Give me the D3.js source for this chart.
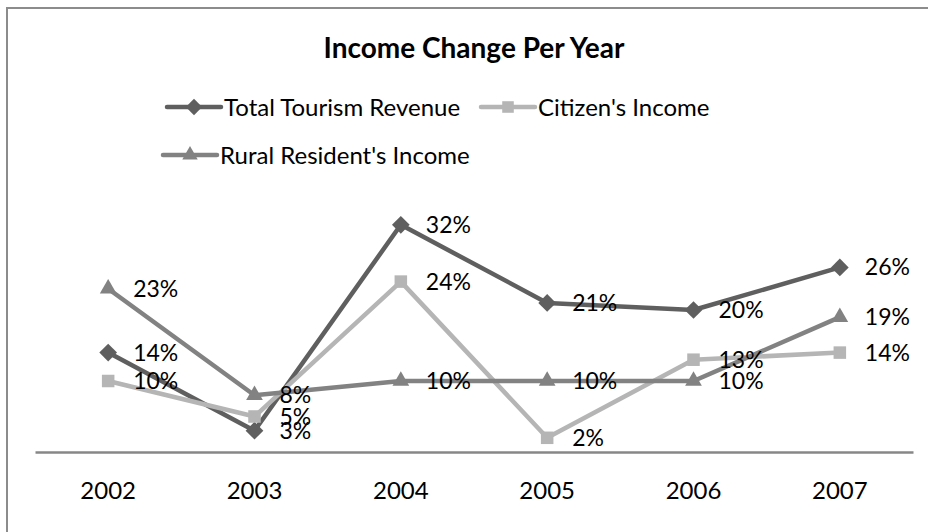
<!DOCTYPE html>
<html>
<head>
<meta charset="utf-8">
<script src="https://cdn.jsdelivr.net/npm/d3@7"></script>
<style>
  html, body { margin: 0; padding: 0; background: #fff; }
  svg { display: block; font-family: Lato, "Open Sans", sans-serif; }
</style>
</head>
<body>
<svg id="chart" width="928" height="532"></svg>
<script>
// Categories and series values (percent change per year)
const years = ["2002", "2003", "2004", "2005", "2006", "2007"];
const tourismRevenue = [14, 3, 32, 21, 20, 26];
const citizensIncome = [10, 5, 24, 2, 13, 14];
const ruralIncome = [23, 8, 10, 10, 10, 19];
const seriesNames = ["Total Tourism Revenue", "Citizen's Income", "Rural Resident's Income"];
const chartTitle = "Income Change Per Year";

const series = [
  { name: seriesNames[0], values: tourismRevenue, color: "#5f5f5f", symbol: d3.symbolDiamond2 },
  { name: seriesNames[1], values: citizensIncome, color: "#b5b5b5", symbol: d3.symbolSquare2 },
  { name: seriesNames[2], values: ruralIncome, color: "#828282", symbol: d3.symbolTriangle2 }
];

const svg = d3.select("#chart");

// Chart frame: top and left edges (the rest runs past the page)
svg.append("path")
  .attr("d", "M7,540 V8 H940")
  .attr("fill", "none")
  .attr("stroke", "#8c8c8c")
  .attr("stroke-width", 2);

const plot = { left: 35, right: 913, top: 168, bottom: 452 };

const x = d3.scaleBand().domain(years).range([plot.left, plot.right]);
const y = d3.scaleLinear().domain([0, 40]).range([plot.bottom, plot.top]);

// Title
svg.append("text")
  .attr("x", 474).attr("y", 58)
  .attr("text-anchor", "middle")
  .attr("font-size", 28)
  .attr("font-weight", "bold")
  .attr("fill", "#000")
  .text(chartTitle);

// Legend
function symbolPath(sym, size) { return d3.symbol().type(sym).size(size)(); }
const legendPos = [
  { x: 167, y: 107 },
  { x: 481, y: 107 },
  { x: 163, y: 155 }
];
series.forEach((s, i) => {
  const g = svg.append("g").attr("transform", `translate(${legendPos[i].x},${legendPos[i].y})`);
  g.append("line")
    .attr("x1", 0).attr("x2", 54)
    .attr("stroke", s.color).attr("stroke-width", 4.5).attr("stroke-linecap", "round");
  g.append("path")
    .attr("transform", "translate(27,0)")
    .attr("d", symbolPath(s.symbol, 170))
    .attr("fill", s.color);
  g.append("text")
    .attr("x", 57).attr("y", 1)
    .attr("dy", "0.35em")
    .attr("font-size", 24)
    .attr("fill", "#000")
    .text(s.name);
});

// Category axis
const xAxis = svg.append("g")
  .attr("transform", `translate(0,${plot.bottom})`)
  .call(d3.axisBottom(x).tickSize(0).tickPadding(30));
xAxis.select(".domain").attr("stroke", "#878787").attr("stroke-width", 2.5);
xAxis.selectAll("text")
  .attr("font-size", 24)
  .attr("font-family", "Lato, 'Open Sans', sans-serif")
  .attr("fill", "#000");

const cx = d => x(d) + x.bandwidth() / 2;
const line = d3.line().x((d, i) => cx(years[i])).y(d => y(d));

// Lines and markers
series.forEach(s => {
  const g = svg.append("g");
  g.append("path")
    .attr("d", line(s.values))
    .attr("fill", "none")
    .attr("stroke", s.color)
    .attr("stroke-width", 4.5)
    .attr("stroke-linejoin", "round");
  g.selectAll("path.marker")
    .data(s.values)
    .join("path")
    .attr("class", "marker")
    .attr("transform", (d, i) => `translate(${cx(years[i])},${y(d)})`)
    .attr("d", symbolPath(s.symbol, 200))
    .attr("fill", s.color);
});

// Value labels to the right of each point
series.forEach(s => {
  svg.append("g").selectAll("text")
    .data(s.values)
    .join("text")
    .attr("x", (d, i) => cx(years[i]) + 25)
    .attr("y", d => y(d))
    .attr("dy", "0.35em")
    .attr("font-size", 23)
    .attr("fill", "#000")
    .text(d => d + "%");
});
</script>
</body>
</html>
